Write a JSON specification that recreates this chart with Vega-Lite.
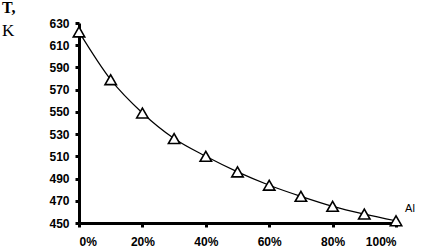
{
  "$schema": "https://vega.github.io/schema/vega-lite/v6.json",
  "autosize": "none",
  "width": 317,
  "height": 200,
  "padding": {"left": 79, "top": 23, "right": 27, "bottom": 27},
  "background": "white",
  "title": {
    "text": "T,",
    "subtitle": "K",
    "anchor": "start",
    "frame": "group",
    "dx": -77,
    "offset": -22,
    "font": "Liberation Serif",
    "fontSize": 16,
    "fontWeight": "bold",
    "color": "black",
    "subtitleFont": "Liberation Serif",
    "subtitleFontSize": 17,
    "subtitleColor": "black",
    "subtitlePadding": 7
  },
  "data": {
    "values": [
      {"x": 0.0, "T": 622},
      {"x": 0.1, "T": 579},
      {"x": 0.2, "T": 549},
      {"x": 0.3, "T": 526},
      {"x": 0.4, "T": 510},
      {"x": 0.5, "T": 496},
      {"x": 0.6, "T": 484},
      {"x": 0.7, "T": 474},
      {"x": 0.8, "T": 465},
      {"x": 0.9, "T": 458},
      {"x": 1.0, "T": 452}
    ]
  },
  "encoding": {
    "x": {
      "field": "x",
      "type": "quantitative",
      "scale": {"domain": [0, 1], "nice": false, "zero": false},
      "axis": {
        "values": [0, 0.2, 0.4, 0.6, 0.8, 1],
        "format": ".0%",
        "title": null,
        "grid": false,
        "domainWidth": 3,
        "domainColor": "black",
        "tickColor": "black",
        "tickWidth": 3,
        "tickSize": 4,
        "tickOffset": 0,
        "labelFont": "Liberation Sans",
        "labelFontWeight": "bold",
        "labelFontSize": 12,
        "labelColor": "black",
        "labelPadding": 9
      }
    },
    "y": {
      "field": "T",
      "type": "quantitative",
      "scale": {"domain": [450, 630], "nice": false, "zero": false},
      "axis": {
        "values": [450, 470, 490, 510, 530, 550, 570, 590, 610, 630],
        "title": null,
        "grid": false,
        "domainWidth": 3,
        "domainColor": "black",
        "tickColor": "black",
        "tickWidth": 3,
        "tickSize": 4,
        "labelFont": "Liberation Sans",
        "labelFontWeight": "bold",
        "labelFontSize": 12,
        "labelColor": "black",
        "labelPadding": 6
      }
    }
  },
  "layer": [
    {
      "mark": {"type": "line", "color": "black", "strokeWidth": 1.2, "interpolate": "monotone"}
    },
    {
      "mark": {"type": "point", "shape": "triangle-up", "size": 130, "filled": true, "fill": "white", "stroke": "black", "strokeWidth": 1.6, "opacity": 1}
    },
    {
      "transform": [{"filter": "datum.x == 1"}],
      "mark": {"type": "text", "text": "Al", "dx": 14, "dy": -12, "font": "Liberation Sans", "fontSize": 11, "color": "black", "align": "center"}
    }
  ],
  "config": {"view": {"stroke": null}}
}
